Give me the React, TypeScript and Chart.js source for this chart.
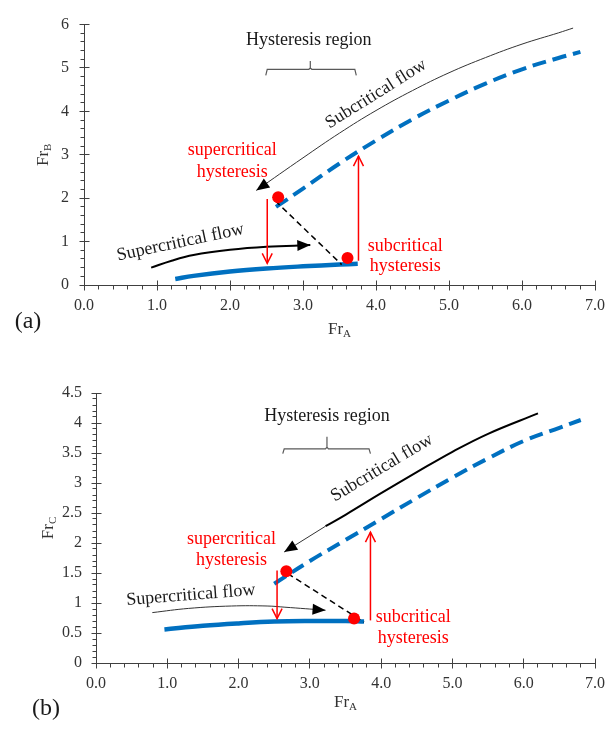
import React, { useEffect, useRef } from "react";
import { Chart, registerables } from "chart.js";

Chart.register(...registerables);

const FONT = "'Liberation Serif', 'Times New Roman', Times, serif";
const BLUE = "#0070C0";
const RED = "#FF0000";
const INK = "#1a1a1a";
const AXIS = "#404040";

// ---------- Panel (a): Fr_B vs Fr_A ----------
const A_BLUE_DASH_X = [2.63, 3.0, 3.5, 4.0, 4.5, 5.0, 5.5, 6.0, 6.5, 6.8];
const A_BLUE_DASH_Y = [1.8, 2.22, 2.8, 3.33, 3.82, 4.25, 4.64, 4.97, 5.23, 5.37];
const A_BLUE_SOLID_X = [1.25, 1.5, 2.0, 2.5, 3.0, 3.5, 3.75];
const A_BLUE_SOLID_Y = [0.14, 0.21, 0.31, 0.38, 0.43, 0.47, 0.49];
const A_SUBFLOW_X = [2.36, 3.0, 3.5, 4.0, 4.5, 5.0, 5.5, 6.0, 6.5, 6.7];
const A_SUBFLOW_Y = [2.18, 2.93, 3.5, 4.02, 4.48, 4.89, 5.24, 5.55, 5.81, 5.92];
const A_SUPERFLOW_X = [0.92, 1.2, 1.5, 2.0, 2.5, 3.1];
const A_SUPERFLOW_Y = [0.4, 0.56, 0.69, 0.81, 0.88, 0.92];
const A_JUMP_X = [2.62, 3.53];
const A_JUMP_Y = [1.94, 0.47];
const A_DOWN_X = [2.51, 2.51];
const A_DOWN_Y = [1.98, 0.5];
const A_UP_X = [3.76, 3.76];
const A_UP_Y = [0.56, 2.97];
const A_DOTS_X = [2.66, 3.61];
const A_DOTS_Y = [2.02, 0.62];
const A_BRACE_X = [2.49, 2.51, 3.08, 3.1, 3.1, 3.1, 3.12, 3.71, 3.73];
const A_BRACE_Y = [4.83, 4.97, 4.97, 5.0, 5.16, 5.0, 4.97, 4.97, 4.83];

// ---------- Panel (b): Fr_C vs Fr_A ----------
const B_BLUE_DASH_X = [2.5, 3.0, 3.5, 4.0, 4.5, 5.0, 5.5, 6.0, 6.5, 6.8];
const B_BLUE_DASH_Y = [1.32, 1.7, 2.05, 2.4, 2.75, 3.09, 3.41, 3.7, 3.92, 4.05];
const B_BLUE_SOLID_X = [0.96, 1.5, 2.0, 2.5, 3.0, 3.5, 3.76];
const B_BLUE_SOLID_Y = [0.56, 0.62, 0.66, 0.69, 0.7, 0.7, 0.69];
const B_SUBFLOW_THIN_X = [2.64, 3.22];
const B_SUBFLOW_THIN_Y = [1.85, 2.28];
const B_SUBFLOW_X = [3.22, 3.5, 4.0, 4.5, 5.0, 5.5, 6.2];
const B_SUBFLOW_Y = [2.28, 2.47, 2.83, 3.18, 3.52, 3.82, 4.16];
const B_SUPERFLOW_X = [0.79, 1.3, 1.9, 2.4, 2.65, 3.22];
const B_SUPERFLOW_Y = [0.84, 0.91, 0.95, 0.95, 0.93, 0.88];
const B_JUMP_X = [2.69, 3.76];
const B_JUMP_Y = [1.49, 0.68];
const B_DOWN_X = [2.54, 2.54];
const B_DOWN_Y = [1.54, 0.74];
const B_UP_X = [3.85, 3.85];
const B_UP_Y = [0.71, 2.18];
const B_DOTS_X = [2.67, 3.62];
const B_DOTS_Y = [1.53, 0.74];
const B_BRACE_X = [2.62, 2.64, 3.22, 3.24, 3.24, 3.24, 3.26, 3.83, 3.85];
const B_BRACE_Y = [3.49, 3.57, 3.57, 3.6, 3.77, 3.6, 3.57, 3.57, 3.49];

type Label = { text: string; x: number; y: number; rot?: number; color?: string };

const A_LABELS: Label[] = [
  { text: "Hysteresis region", x: 3.08, y: 5.64 },
  { text: "Subcritical flow", x: 4.0, y: 4.4, rot: -32 },
  { text: "Supercritical flow", x: 1.32, y: 0.98, rot: -12 },
  { text: "supercritical", x: 2.03, y: 3.1, color: RED },
  { text: "hysteresis", x: 2.03, y: 2.6, color: RED },
  { text: "subcritical", x: 4.4, y: 0.89, color: RED },
  { text: "hysteresis", x: 4.4, y: 0.43, color: RED },
];

const B_LABELS: Label[] = [
  { text: "Hysteresis region", x: 3.24, y: 4.11 },
  { text: "Subcritical flow", x: 4.01, y: 3.25, rot: -31 },
  { text: "Supercritical flow", x: 1.33, y: 1.13, rot: -4.5 },
  { text: "supercritical", x: 1.9, y: 2.07, color: RED },
  { text: "hysteresis", x: 1.9, y: 1.71, color: RED },
  { text: "subcritical", x: 4.45, y: 0.77, color: RED },
  { text: "hysteresis", x: 4.45, y: 0.41, color: RED },
];

const pts = (xs: number[], ys: number[]) => xs.map((x, i) => ({ x, y: ys[i] }));

const line = (data: any[], color: string, width: number, extra: any = {}) => ({
  data,
  showLine: true,
  borderColor: color,
  backgroundColor: color,
  borderWidth: width,
  pointRadius: 0,
  pointHoverRadius: 0,
  tension: 0.4,
  fill: false,
  ...extra,
});

const dots = (data: any[]) => ({
  data,
  showLine: false,
  pointRadius: 6,
  pointHoverRadius: 6,
  pointBackgroundColor: RED,
  pointBorderColor: RED,
  pointBorderWidth: 0,
});

const tickMarksPlugin = (xMinor: number, yMinor: number) => ({
  id: "tickMarks",
  afterDraw(chart: any) {
    const { ctx, scales, chartArea } = chart;
    const xs = scales.x;
    const ys = scales.y;
    const by = Math.round(chartArea.bottom - 0.5) + 0.5;
    const bx = Math.round(chartArea.left - 0.5) + 0.5;
    ctx.save();
    ctx.strokeStyle = AXIS;
    ctx.lineWidth = 1;
    ctx.beginPath();
    const nx = Math.round((xs.max - xs.min) / xMinor);
    for (let i = 0; i <= nx; i++) {
      const px = Math.round(xs.getPixelForValue(xs.min + i * xMinor) - 0.5) + 0.5;
      if (i % 5 === 0) {
        ctx.moveTo(px, by - 5);
        ctx.lineTo(px, by + 5);
      } else {
        ctx.moveTo(px, by);
        ctx.lineTo(px, by + 4);
      }
    }
    const ny = Math.round((ys.max - ys.min) / yMinor);
    for (let i = 0; i <= ny; i++) {
      const py = Math.round(ys.getPixelForValue(ys.min + i * yMinor) - 0.5) + 0.5;
      if (i % 5 === 0) {
        ctx.moveTo(bx - 5, py);
        ctx.lineTo(bx + 5, py);
      } else {
        ctx.moveTo(bx - 4, py);
        ctx.lineTo(bx, py);
      }
    }
    ctx.stroke();
    ctx.restore();
  },
});

const arrowPlugin = {
  id: "arrowHeads",
  afterDatasetsDraw(chart: any) {
    const ctx = chart.ctx;
    chart.data.datasets.forEach((ds: any, i: number) => {
      if (!ds.arrow) return;
      const el = chart.getDatasetMeta(i).data;
      const n = el.length;
      const atStart = ds.arrow.at === "start";
      const tip = atStart ? el[0] : el[n - 1];
      const prev = atStart ? el[1] : el[n - 2];
      const ang = Math.atan2(tip.y - prev.y, tip.x - prev.x);
      ctx.save();
      ctx.translate(tip.x, tip.y);
      ctx.rotate(ang);
      if (ds.arrow.kind === "open") {
        ctx.strokeStyle = ds.borderColor;
        ctx.lineWidth = ds.borderWidth;
        ctx.beginPath();
        ctx.moveTo(-10, -5);
        ctx.lineTo(0, 0);
        ctx.lineTo(-10, 5);
        ctx.stroke();
      } else {
        ctx.fillStyle = "#000";
        ctx.beginPath();
        ctx.moveTo(0, 0);
        ctx.lineTo(-13, -5.5);
        ctx.lineTo(-13, 5.5);
        ctx.closePath();
        ctx.fill();
      }
      ctx.restore();
    });
  },
};

const drawSub = (ctx: any, main: string, sub: string, cx: number, cy: number, rot: number) => {
  ctx.save();
  ctx.translate(cx, cy);
  ctx.rotate(rot);
  ctx.fillStyle = "#333";
  ctx.textBaseline = "middle";
  ctx.textAlign = "left";
  ctx.font = `17px ${FONT}`;
  const w1 = ctx.measureText(main).width;
  ctx.font = `11px ${FONT}`;
  const w2 = ctx.measureText(sub).width;
  const start = -(w1 + w2) / 2;
  ctx.font = `17px ${FONT}`;
  ctx.fillText(main, start, 0);
  ctx.font = `11px ${FONT}`;
  ctx.fillText(sub, start + w1, 4);
  ctx.restore();
};

const textPlugin = (cfg: any) => ({
  id: "texts",
  afterDraw(chart: any) {
    const { ctx, scales, chartArea } = chart;
    ctx.save();
    ctx.textAlign = "center";
    ctx.textBaseline = "middle";
    ctx.font = `18px ${FONT}`;
    cfg.labels.forEach((l: Label) => {
      const px = scales.x.getPixelForValue(l.x);
      const py = scales.y.getPixelForValue(l.y);
      ctx.save();
      ctx.translate(px, py);
      ctx.rotate(((l.rot || 0) * Math.PI) / 180);
      ctx.fillStyle = l.color || INK;
      ctx.fillText(l.text, 0, 0);
      ctx.restore();
    });
    ctx.font = `24px ${FONT}`;
    ctx.fillStyle = INK;
    ctx.fillText(cfg.panel.text, cfg.panel.x, cfg.panel.y);
    ctx.restore();
    drawSub(ctx, "Fr", "A", (chartArea.left + chartArea.right) / 2, chartArea.bottom + cfg.xTitleDy, 0);
    drawSub(ctx, "Fr", cfg.ySub, cfg.yTitleX, (chartArea.top + chartArea.bottom) / 2, -Math.PI / 2);
  },
});

const buildConfig = (cfg: any): any => ({
  type: "scatter",
  data: { datasets: cfg.datasets },
  options: {
    animation: false,
    responsive: false,
    maintainAspectRatio: false,
    events: [],
    layout: { padding: { top: cfg.padTop, right: 19, left: 0, bottom: 0 } },
    plugins: { legend: { display: false }, tooltip: { enabled: false } },
    scales: {
      x: {
        type: "linear",
        min: 0,
        max: 7,
        afterFit: (s: any) => {
          s.height = cfg.xHeight;
        },
        ticks: {
          stepSize: 1,
          autoSkip: false,
          maxRotation: 0,
          padding: 11,
          color: "#333",
          font: { family: FONT, size: 16 },
          callback: (v: any) => Number(v).toFixed(1),
        },
        grid: { display: false, drawTicks: false },
        border: { display: true, color: AXIS, width: 1 },
      },
      y: {
        type: "linear",
        min: 0,
        max: cfg.yMax,
        afterFit: (s: any) => {
          s.width = cfg.yWidth;
        },
        ticks: {
          stepSize: cfg.yStep,
          autoSkip: false,
          padding: cfg.yPad,
          color: "#333",
          font: { family: FONT, size: 16 },
          callback: (v: any) => String(Number(Number(v).toFixed(2))),
        },
        grid: { display: false, drawTicks: false },
        border: { display: true, color: AXIS, width: 1 },
      },
    },
  },
  plugins: [tickMarksPlugin(0.2, cfg.yMinor), arrowPlugin, textPlugin(cfg)],
});

const PANEL_A = {
  yMax: 6,
  yStep: 1,
  yMinor: 0.2,
  padTop: 17,
  yWidth: 84,
  xHeight: 80,
  yPad: 15,
  xTitleDy: 45,
  yTitleX: 44,
  ySub: "B",
  panel: { text: "(a)", x: 28, y: 322 },
  labels: A_LABELS,
  datasets: [
    dots(pts(A_DOTS_X, A_DOTS_Y)),
    line(pts(A_DOWN_X, A_DOWN_Y), RED, 1.5, { tension: 0, arrow: { at: "end", kind: "open" } }),
    line(pts(A_UP_X, A_UP_Y), RED, 1.5, { tension: 0, arrow: { at: "end", kind: "open" } }),
    line(pts(A_JUMP_X, A_JUMP_Y), "#000", 1.5, { tension: 0, borderDash: [6, 4] }),
    line(pts(A_SUBFLOW_X, A_SUBFLOW_Y), "#333", 1, { arrow: { at: "start", kind: "filled" } }),
    line(pts(A_SUPERFLOW_X, A_SUPERFLOW_Y), "#000", 2, { arrow: { at: "end", kind: "filled" } }),
    line(pts(A_BLUE_DASH_X, A_BLUE_DASH_Y), BLUE, 4, { borderDash: [14, 7], borderCapStyle: "butt" }),
    line(pts(A_BLUE_SOLID_X, A_BLUE_SOLID_Y), BLUE, 4.5, { borderCapStyle: "butt" }),
    line(pts(A_BRACE_X, A_BRACE_Y), "#595959", 1.2, { tension: 0 }),
  ],
};

const PANEL_B = {
  yMax: 4.5,
  yStep: 0.5,
  yMinor: 0.1,
  padTop: 28,
  yWidth: 96,
  xHeight: 66,
  yPad: 14,
  xTitleDy: 40,
  yTitleX: 49,
  ySub: "C",
  panel: { text: "(b)", x: 46, y: 344 },
  labels: B_LABELS,
  datasets: [
    dots(pts(B_DOTS_X, B_DOTS_Y)),
    line(pts(B_DOWN_X, B_DOWN_Y), RED, 1.5, { tension: 0, arrow: { at: "end", kind: "open" } }),
    line(pts(B_UP_X, B_UP_Y), RED, 1.5, { tension: 0, arrow: { at: "end", kind: "open" } }),
    line(pts(B_JUMP_X, B_JUMP_Y), "#000", 1.5, { tension: 0, borderDash: [6, 4] }),
    line(pts(B_SUBFLOW_THIN_X, B_SUBFLOW_THIN_Y), "#333", 1, { tension: 0, arrow: { at: "start", kind: "filled" } }),
    line(pts(B_SUBFLOW_X, B_SUBFLOW_Y), "#000", 2),
    line(pts(B_SUPERFLOW_X, B_SUPERFLOW_Y), "#333", 1, { arrow: { at: "end", kind: "filled" } }),
    line(pts(B_BLUE_DASH_X, B_BLUE_DASH_Y), BLUE, 4, { borderDash: [14, 7], borderCapStyle: "butt" }),
    line(pts(B_BLUE_SOLID_X, B_BLUE_SOLID_Y), BLUE, 4.5, { borderCapStyle: "butt" }),
    line(pts(B_BRACE_X, B_BRACE_Y), "#595959", 1.2, { tension: 0 }),
  ],
};

export default function App() {
  const refA = useRef<HTMLCanvasElement>(null);
  const refB = useRef<HTMLCanvasElement>(null);
  useEffect(() => {
    const a = new Chart(refA.current as HTMLCanvasElement, buildConfig(PANEL_A));
    const b = new Chart(refB.current as HTMLCanvasElement, buildConfig(PANEL_B));
    return () => {
      a.destroy();
      b.destroy();
    };
  }, []);
  return (
    <div style={{ position: "absolute", left: 0, top: 0, width: 616, height: 729, background: "#fff" }}>
      <canvas ref={refA} width={616} height={365} style={{ display: "block", width: 616, height: 365 }} />
      <canvas ref={refB} width={616} height={364} style={{ display: "block", width: 616, height: 364 }} />
    </div>
  );
}
